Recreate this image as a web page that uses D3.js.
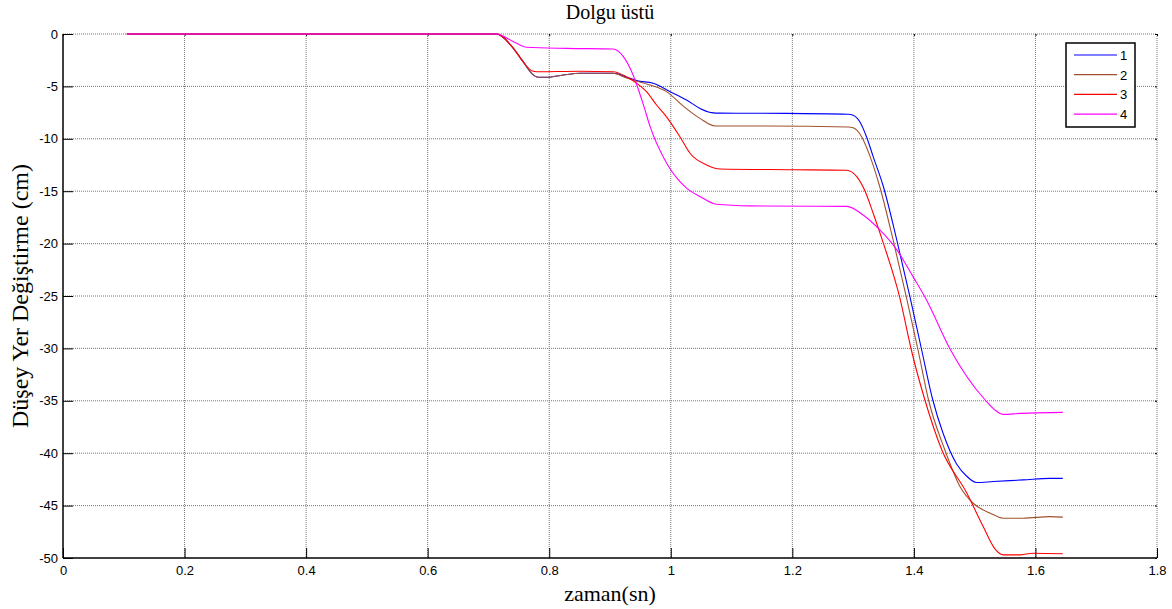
<!DOCTYPE html>
<html>
<head>
<meta charset="utf-8">
<style>
  body { margin: 0; background: #fff; }
  .tick text { font: 13px Arial, "Liberation Sans", sans-serif; fill: #000; }
  .title, .xlabel, .ylabel { font-family: "Times New Roman", "Liberation Serif", serif; fill: #000; }
</style>
</head>
<body>
<svg width="1172" height="609"></svg>
<script src="https://d3js.org/d3.v7.min.js"></script>
<script>

// time (s) and vertical displacement (cm)
var s1_t = [0.105, 0.71, 0.7135, 0.741, 0.757, 0.771, 0.782, 0.796, 0.823, 0.851, 0.905, 0.927, 0.944, 0.971, 0.999, 1.026, 1.048, 1.067, 1.08, 1.19, 1.292, 1.3, 1.311, 1.322, 1.333, 1.350, 1.372, 1.394, 1.413, 1.431, 1.448, 1.470, 1.487, 1.503, 1.531, 1.58, 1.624, 1.645];
var s1_v = [0, 0, 0, -1.37, -2.64, -3.75, -4.13, -4.13, -3.91, -3.75, -3.75, -4.1, -4.45, -4.7, -5.5, -6.3, -7.1, -7.5, -7.55, -7.57, -7.66, -7.75, -8.37, -9.8, -11.7, -14.6, -19.7, -25.2, -30.2, -34.9, -38.1, -41, -42.2, -42.8, -42.7, -42.55, -42.4, -42.4];

var s2_t = [0.105, 0.71, 0.7135, 0.741, 0.757, 0.771, 0.782, 0.796, 0.823, 0.851, 0.905, 0.927, 0.938, 0.966, 0.993, 1.021, 1.048, 1.073, 1.158, 1.292, 1.3, 1.314, 1.328, 1.344, 1.366, 1.388, 1.407, 1.424, 1.451, 1.476, 1.498, 1.525, 1.547, 1.58, 1.624, 1.645];
var s2_v = [0, 0, 0, -1.37, -2.64, -3.75, -4.13, -4.13, -3.91, -3.75, -3.75, -4.2, -4.39, -4.87, -5.5, -6.9, -8.05, -8.78, -8.78, -8.87, -8.95, -9.8, -11.7, -14.6, -19.7, -25.2, -30.2, -34.9, -39.7, -43.2, -44.8, -45.7, -46.2, -46.2, -46.05, -46.1];

var s3_t = [0.105, 0.71, 0.7135, 0.741, 0.757, 0.771, 0.78, 0.85, 0.905, 0.927, 0.944, 0.96, 0.977, 0.993, 1.015, 1.032, 1.059, 1.081, 1.2, 1.289, 1.306, 1.319, 1.333, 1.350, 1.377, 1.396, 1.418, 1.446, 1.487, 1.514, 1.533, 1.547, 1.575, 1.596, 1.645];
var s3_v = [0, 0, 0, -1.37, -2.64, -3.5, -3.6, -3.55, -3.6, -4.07, -4.7, -5.5, -6.8, -7.9, -9.8, -11.4, -12.5, -12.88, -12.95, -13, -13.6, -14.9, -17.1, -20, -25.2, -30.2, -34.9, -39.7, -43.8, -47, -49.1, -49.7, -49.7, -49.55, -49.6];

var s4_t = [0.105, 0.71, 0.7135, 0.741, 0.763, 0.829, 0.905, 0.922, 0.938, 0.955, 0.966, 0.993, 1.026, 1.048, 1.075, 1.13, 1.29, 1.317, 1.344, 1.372, 1.399, 1.421, 1.459, 1.517, 1.536, 1.547, 1.575, 1.645];
var s4_v = [0, 0, 0, -0.73, -1.27, -1.37, -1.43, -2.16, -3.91, -6.77, -8.84, -12.3, -14.7, -15.5, -16.25, -16.4, -16.45, -17.3, -18.7, -20.6, -23.2, -25.4, -30, -34.9, -36, -36.3, -36.2, -36.1];

var seriesNames = ["1", "2", "3", "4"];
var seriesColors = ["#0000ff", "#a0522d", "#ff0000", "#ff00ff"];
var xTicks = [0, 0.2, 0.4, 0.6, 0.8, 1, 1.2, 1.4, 1.6, 1.8];
var yTicks = [0, -5, -10, -15, -20, -25, -30, -35, -40, -45, -50];

var allT = [s1_t, s2_t, s3_t, s4_t];
var allV = [s1_v, s2_v, s3_v, s4_v];

var svg = d3.select("svg");
var pL = 63, pR = 1157, pT = 34, pB = 558;

var x = d3.scaleLinear().domain([0, 1.8]).range([pL, pR]);
var y = d3.scaleLinear().domain([-50, 0]).range([pB, pT]);

// grid
var grid = svg.append("g");
grid.selectAll(".gx").data(xTicks.slice(1)).enter().append("line")
    .attr("x1", function(d) { return x(d); }).attr("x2", function(d) { return x(d); })
    .attr("y1", pT).attr("y2", pB)
    .attr("stroke", "#777").attr("stroke-width", 1).attr("stroke-dasharray", "1,1");
grid.selectAll(".gy").data(yTicks.slice(0, -1)).enter().append("line")
    .attr("x1", pL).attr("x2", pR)
    .attr("y1", function(d) { return y(d); }).attr("y2", function(d) { return y(d); })
    .attr("stroke", "#777").attr("stroke-width", 1).attr("stroke-dasharray", "1,1");

// small tick marks on top and right edges
svg.append("g").attr("transform", "translate(0," + pT + ")")
    .call(d3.axisBottom(x).tickValues(xTicks).tickSize(2).tickFormat(""))
    .call(function(g) { g.select(".domain").remove(); });
svg.append("g").attr("transform", "translate(" + pR + ",0)")
    .call(d3.axisRight(y).tickValues(yTicks).tickSize(-2).tickFormat(""))
    .call(function(g) { g.select(".domain").remove(); });

// axes
var xAxis = svg.append("g").attr("transform", "translate(0," + pB + ")")
    .call(d3.axisBottom(x).tickValues(xTicks).tickSize(-10).tickPadding(4)
      .tickFormat(function(d) { return String(d); }));
xAxis.select(".domain").attr("d", "M" + pL + ",0H" + pR).attr("stroke-width", 1.5);
xAxis.selectAll(".tick text").attr("y", 6).attr("dy", "0.85em");

var yAxis = svg.append("g").attr("transform", "translate(" + pL + ",0)")
    .call(d3.axisLeft(y).tickValues(yTicks).tickSize(-10).tickPadding(4)
      .tickFormat(function(d) { return String(d); }));
yAxis.select(".domain").attr("d", "M0," + pT + "V" + pB).attr("stroke-width", 1.5);
yAxis.selectAll(".tick text").attr("x", -5);

// lines
var line = d3.line()
    .x(function(d) { return x(d[0]); })
    .y(function(d) { return y(d[1]); })
    .curve(d3.curveMonotoneX);

seriesNames.forEach(function(name, i) {
  var pts = allT[i].map(function(t, j) { return [t, allV[i][j]]; });
  svg.append("path")
      .datum(pts)
      .attr("fill", "none")
      .attr("stroke", seriesColors[i])
      .attr("stroke-width", 1.1)
      .attr("d", line);
});

// title and labels
svg.append("text").attr("class", "title")
    .attr("x", (pL + pR) / 2).attr("y", 19)
    .attr("text-anchor", "middle").style("font-size", "20px")
    .text("Dolgu üstü");

svg.append("text").attr("class", "xlabel")
    .attr("x", (pL + pR) / 2).attr("y", 601)
    .attr("text-anchor", "middle").style("font-size", "22px")
    .text("zaman(sn)");

svg.append("text").attr("class", "ylabel")
    .attr("transform", "translate(28," + ((pT + pB) / 2) + ") rotate(-90)")
    .attr("text-anchor", "middle").style("font-size", "24px")
    .text("Düşey Yer Değiştirme (cm)");

// legend
var legend = svg.append("g");
legend.append("rect")
    .attr("x", 1066).attr("y", 43).attr("width", 69).attr("height", 84)
    .attr("fill", "#fff").attr("stroke", "#000").attr("stroke-width", 1.5);
seriesNames.forEach(function(name, i) {
  var ly = 55 + i * 19.7;
  legend.append("line")
      .attr("x1", 1074).attr("x2", 1117).attr("y1", ly).attr("y2", ly)
      .attr("stroke", seriesColors[i]).attr("stroke-width", 1.2);
  legend.append("text")
      .attr("x", 1120).attr("y", ly + 5)
      .style("font", "13px Arial, 'Liberation Sans', sans-serif")
      .text(name);
});

</script>
</body>
</html>
